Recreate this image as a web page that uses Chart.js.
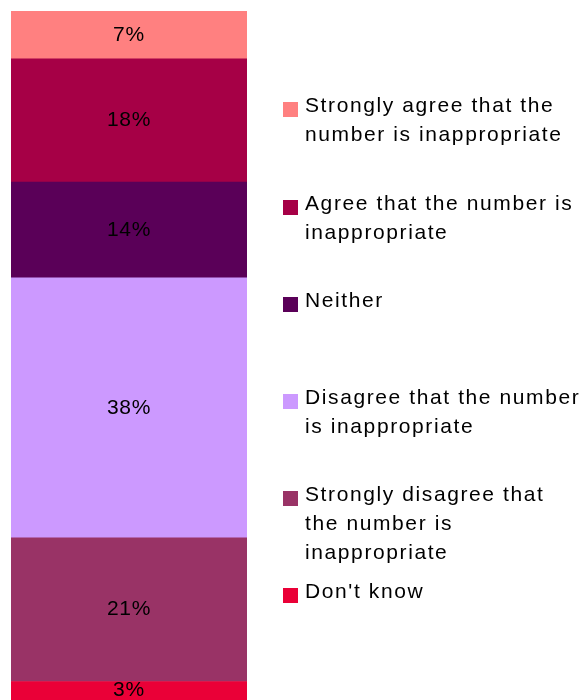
<!DOCTYPE html>
<html>
<head>
<meta charset="utf-8">
<script src="https://cdn.jsdelivr.net/npm/chart.js@4/dist/chart.umd.min.js"></script>
<style>
  html, body { margin: 0; padding: 0; background: #fff; overflow: hidden; }
  #chart { display: block; }
</style>
</head>
<body>
<canvas id="chart" width="582" height="703"></canvas>
<script>
// data, bottom to top of the bar
const categories = ['Don\'t know', 'Strongly disagree that the number is inappropriate', 'Disagree that the number is inappropriate', 'Neither', 'Agree that the number is inappropriate', 'Strongly agree that the number is inappropriate'];
const legendLines = [
    ['Don\'t know'],
    ['Strongly disagree that', 'the number is', 'inappropriate'],
    ['Disagree that the number', 'is inappropriate'],
    ['Neither'],
    ['Agree that the number is', 'inappropriate'],
    ['Strongly agree that the', 'number is inappropriate']
];
const values = [3, 21, 38, 14, 18, 7];
const colors = ['#EA0037', '#993366', '#CC99FF', '#5A0058', '#A60046', '#FF8080'];

const FONT = '"Liberation Sans", Arial, sans-serif';

// labels inside the bar segments
const segmentLabels = {
    id: 'segmentLabels',
    afterDatasetsDraw(chart) {
        const ctx = chart.ctx;
        ctx.save();
        ctx.font = '21px ' + FONT;
        ctx.letterSpacing = '0.7px';
        ctx.fillStyle = '#000';
        ctx.textAlign = 'center';
        ctx.textBaseline = 'middle';
        chart.data.datasets.forEach((ds, i) => {
            const bar = chart.getDatasetMeta(i).data[0];
            const y = (bar.y + bar.base) / 2;
            ctx.fillText(ds.data[0] + '%', bar.x, Math.min(y, 690));
        });
        ctx.restore();
    }
};

// legend on the right, top item first
const sideLegend = {
    id: 'sideLegend',
    afterDraw(chart) {
        const ctx = chart.ctx;
        ctx.save();
        ctx.font = '21px ' + FONT;
        ctx.letterSpacing = '1.6px';
        ctx.textBaseline = 'middle';
        const firstY = [592, 495, 398, 301, 204, 106];
        for (let i = categories.length - 1; i >= 0; i--) {
            const y0 = firstY[i];
            ctx.fillStyle = colors[i];
            ctx.fillRect(283, y0 - 4, 15, 15);
            ctx.fillStyle = '#000';
            legendLines[i].forEach((line, k) => {
                ctx.fillText(line, 305, y0 + k * 29);
            });
        }
        ctx.restore();
    }
};

new Chart(document.getElementById('chart'), {
    type: 'bar',
    data: {
        labels: [''],
        datasets: categories.map((name, i) => ({
            label: name,
            data: [values[i]],
            backgroundColor: colors[i],
            borderWidth: 0,
            barPercentage: 1,
            categoryPercentage: 1
        }))
    },
    options: {
        responsive: false,
        animation: false,
        layout: { padding: { left: 11, right: 335, top: 11, bottom: 1 } },
        scales: {
            x: { stacked: true, display: false },
            y: { stacked: true, display: false, min: 0, max: 101 }
        },
        plugins: {
            legend: { display: false },
            tooltip: { enabled: false }
        }
    },
    plugins: [segmentLabels, sideLegend]
});
</script>
</body>
</html>
